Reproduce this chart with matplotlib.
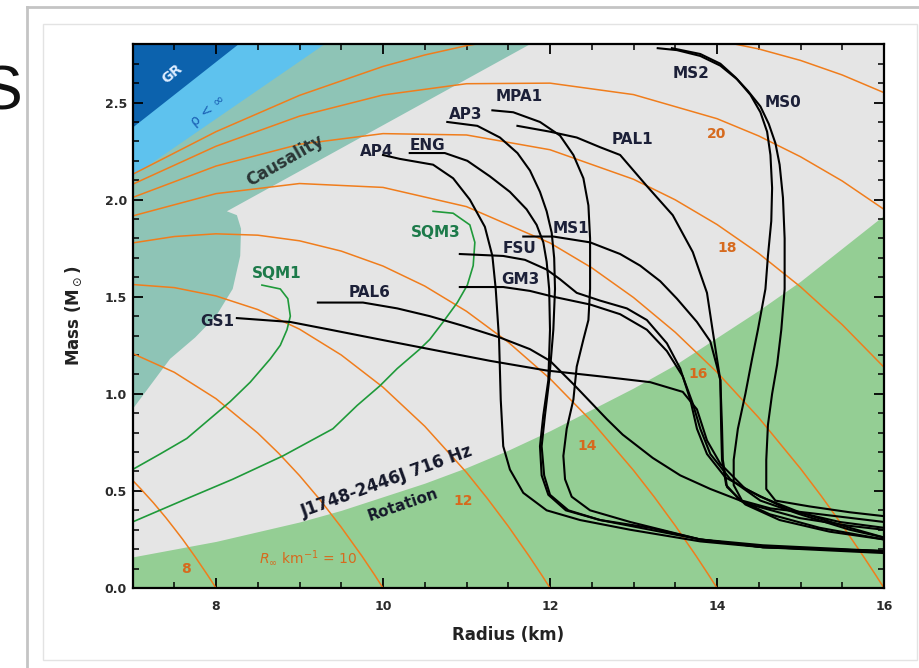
import numpy as np
import matplotlib.pyplot as plt
from matplotlib.ticker import MultipleLocator, FormatStrFormatter
from matplotlib.lines import Line2D
from matplotlib.patches import Rectangle

# ---- excluded regions ----
gr_r = [7.0, 8.27, 7.0]
gr_m = [2.37, 2.80, 2.80]
rho_r = [7.0, 9.3, 7.0]
rho_m = [2.12, 2.80, 2.80]
caus_r = [7.0, 7.45, 7.75, 8.0, 8.2, 8.29, 8.3, 8.25, 8.13, 11.76, 7.0]
caus_m = [0.92, 1.18, 1.29, 1.40, 1.54, 1.71, 1.85, 1.92, 1.94, 2.80, 2.80]
rot_r = [7, 7.5, 8, 8.5, 9, 9.5, 10, 10.5, 11, 11.5, 12, 12.5, 13, 13.5, 14, 14.5, 15, 15.5, 16]
rot_m = [0.16, 0.20, 0.24, 0.29, 0.34, 0.40, 0.47, 0.54, 0.62, 0.71, 0.81, 0.92, 1.03,
         1.15, 1.29, 1.43, 1.58, 1.75, 1.92]

# ---- R_inf contours (orange) ----
rinf8_r = [7.0, 7.1, 7.25, 7.4, 7.5, 7.6, 7.75, 7.9, 8.0]
rinf8_m = [0.555, 0.510, 0.439, 0.362, 0.307, 0.251, 0.161, 0.066, 0.0]
rinf10_r = [7.0, 7.5, 8.0, 8.5, 8.75, 9.0, 9.25, 9.5, 9.75, 9.9, 10.0]
rinf10_m = [1.208, 1.111, 0.975, 0.798, 0.694, 0.579, 0.452, 0.313, 0.163, 0.067, 0.0]
rinf12_r = [7, 7.5, 8, 8.5, 9, 9.5, 10, 10.5, 11, 11.25, 11.5, 11.75, 11.9, 12]
rinf12_m = [1.563, 1.547, 1.504, 1.434, 1.333, 1.200, 1.034, 0.833, 0.595, 0.461, 0.318,
            0.164, 0.067, 0.0]
rinf14_r = [7, 7.5, 8, 8.5, 9, 9.5, 10, 10.5, 11, 11.5, 12, 12.5, 13, 13.25, 13.5, 13.75, 13.9, 14]
rinf14_m = [1.777, 1.810, 1.824, 1.817, 1.788, 1.735, 1.658, 1.555, 1.425, 1.266, 1.078,
            0.858, 0.606, 0.468, 0.321, 0.165, 0.067, 0.0]
rinf16_r = [7, 8, 9, 10, 11, 12, 12.5, 13, 13.5, 14, 14.5, 15, 15.25, 15.5, 15.75, 15.9, 16]
rinf16_m = [1.916, 2.031, 2.083, 2.063, 1.964, 1.777, 1.649, 1.496, 1.317, 1.111, 0.877,
            0.615, 0.473, 0.323, 0.165, 0.067, 0.0]
rinf18_r = [7, 8, 9, 10, 11, 12, 13, 13.5, 14, 14.5, 15, 15.5, 16]
rinf18_m = [2.011, 2.173, 2.285, 2.340, 2.333, 2.257, 2.105, 1.999, 1.872, 1.723, 1.551,
            1.356, 1.137]
rinf20_r = [7, 8, 9, 10, 11, 12, 13, 14, 14.5, 15, 15.5, 16]
rinf20_m = [2.079, 2.275, 2.430, 2.539, 2.597, 2.600, 2.541, 2.417, 2.328, 2.221, 2.096, 1.950]
rinf22_r = [7, 8, 9, 10, 10.5, 11, 11.5, 12, 13, 14, 14.5, 15, 15.5, 16]
rinf22_m = [2.130, 2.350, 2.537, 2.686, 2.745, 2.793, 2.829, 2.854, 2.864, 2.820, 2.776,
            2.717, 2.642, 2.551]

# ---- strange quark matter (green) ----
sqm1_r = [8.55, 8.77, 8.86, 8.89, 8.85, 8.77, 8.65, 8.41, 8.17, 7.65, 7.33, 7.0]
sqm1_m = [1.56, 1.54, 1.49, 1.40, 1.33, 1.25, 1.18, 1.06, 0.96, 0.77, 0.69, 0.61]
sqm3_r = [10.60, 10.84, 11.04, 11.10, 11.08, 11.01, 10.89, 10.72, 10.56, 10.44, 10.17,
          9.96, 9.69, 9.40, 8.80, 8.20, 7.65, 7.0]
sqm3_m = [1.94, 1.93, 1.87, 1.78, 1.66, 1.56, 1.47, 1.37, 1.28, 1.23, 1.13, 1.04, 0.94,
          0.82, 0.68, 0.56, 0.46, 0.34]

# ---- nucleonic EOS curves (black) ----
ap4_r = [10.00, 10.20, 10.60, 10.84, 11.04, 11.22, 11.31, 11.35, 11.39, 11.41, 11.44,
         11.52, 11.68, 11.96, 12.36, 12.96, 13.80, 14.55, 16.0]
ap4_m = [2.23, 2.21, 2.18, 2.11, 2.00, 1.86, 1.71, 1.54, 1.28, 0.97, 0.73, 0.61, 0.49,
         0.40, 0.35, 0.30, 0.24, 0.21, 0.18]
eng_r = [10.32, 10.74, 11.01, 11.28, 11.52, 11.72, 11.84, 11.92, 11.96, 11.99, 12.00,
         11.98, 11.92, 11.88, 11.90, 11.98, 12.19, 12.60, 13.20, 13.80, 14.55, 16.0]
eng_m = [2.24, 2.24, 2.20, 2.12, 2.04, 1.95, 1.87, 1.78, 1.68, 1.54, 1.33, 1.07, 0.89,
         0.73, 0.58, 0.48, 0.40, 0.35, 0.30, 0.25, 0.21, 0.19]
ap3_r = [10.77, 11.13, 11.40, 11.61, 11.76, 11.88, 11.96, 12.02, 12.05, 12.06, 12.04,
         11.99, 11.94, 11.90, 11.93, 12.00, 12.22, 12.60, 13.20, 13.80, 14.55, 16.0]
ap3_m = [2.40, 2.38, 2.32, 2.24, 2.15, 2.04, 1.94, 1.83, 1.70, 1.54, 1.33, 1.07, 0.89,
         0.73, 0.58, 0.48, 0.40, 0.35, 0.31, 0.25, 0.22, 0.19]
mpa1_r = [11.31, 11.56, 11.88, 12.12, 12.28, 12.40, 12.46, 12.48, 12.48, 12.46, 12.40,
          12.32, 12.28, 12.20, 12.16, 12.18, 12.26, 12.48, 12.96, 13.80, 14.55, 16.0]
mpa1_m = [2.46, 2.45, 2.40, 2.33, 2.23, 2.11, 1.97, 1.80, 1.54, 1.38, 1.28, 1.14, 0.97,
          0.82, 0.68, 0.56, 0.47, 0.40, 0.34, 0.25, 0.21, 0.19]
pal1_r = [11.61, 12.00, 12.32, 12.60, 12.84, 13.16, 13.47, 13.71, 13.88, 13.95, 14.00,
          14.04, 14.06, 14.07, 14.12, 14.34, 14.75, 15.35, 16.0]
pal1_m = [2.38, 2.35, 2.32, 2.27, 2.23, 2.07, 1.92, 1.73, 1.52, 1.32, 1.18, 1.07, 0.83,
          0.66, 0.52, 0.43, 0.35, 0.29, 0.25]
ms1_r = [11.68, 12.04, 12.48, 12.84, 13.08, 13.32, 13.52, 13.76, 13.92, 14.00, 14.04,
         14.05, 14.06, 14.11, 14.28, 14.63, 15.23, 16.0]
ms1_m = [1.81, 1.81, 1.78, 1.72, 1.66, 1.58, 1.49, 1.37, 1.27, 1.14, 1.07, 0.82, 0.66,
         0.53, 0.45, 0.38, 0.31, 0.25]
fsu_r = [10.92, 11.44, 11.70, 11.96, 12.12, 12.32, 12.60, 12.92, 13.16, 13.40, 13.56,
         13.68, 13.76, 13.88, 14.10, 14.52, 14.99, 15.59, 16.0]
fsu_m = [1.72, 1.71, 1.69, 1.64, 1.59, 1.52, 1.48, 1.44, 1.38, 1.26, 1.13, 0.97, 0.82,
         0.69, 0.57, 0.47, 0.39, 0.31, 0.26]
gm3_r = [10.92, 11.44, 11.76, 12.04, 12.48, 12.84, 13.16, 13.40, 13.59, 13.71, 13.80,
         13.92, 14.16, 14.52, 14.99, 15.59, 16.0]
gm3_m = [1.55, 1.55, 1.53, 1.50, 1.46, 1.41, 1.33, 1.22, 1.09, 0.95, 0.82, 0.69, 0.56,
         0.45, 0.38, 0.30, 0.26]
pal6_r = [9.22, 9.76, 10.17, 10.56, 10.96, 11.40, 11.76, 12.00, 12.28, 12.68, 12.87,
          13.23, 13.56, 13.92, 14.40, 14.99, 15.59, 16.0]
pal6_m = [1.47, 1.47, 1.44, 1.40, 1.35, 1.29, 1.23, 1.17, 1.05, 0.87, 0.79, 0.67, 0.58,
          0.51, 0.43, 0.36, 0.32, 0.30]
gs1_r = [8.25, 8.89, 9.37, 9.96, 10.56, 11.28, 11.96, 12.60, 13.20, 13.59, 13.76, 13.88,
         14.04, 14.34, 14.87, 15.47, 16.0]
gs1_m = [1.39, 1.37, 1.33, 1.28, 1.23, 1.17, 1.12, 1.09, 1.06, 1.01, 0.92, 0.76, 0.64,
         0.51, 0.40, 0.34, 0.31]
ms2_r = [13.29, 13.52, 13.80, 14.04, 14.24, 14.40, 14.52, 14.60, 14.64, 14.66, 14.65,
         14.61, 14.58, 14.49, 14.42, 14.34, 14.25, 14.20, 14.20, 14.30, 14.64, 15.23, 16.0]
ms2_m = [2.78, 2.77, 2.74, 2.69, 2.62, 2.54, 2.45, 2.35, 2.23, 2.06, 1.89, 1.71, 1.54,
         1.33, 1.18, 1.00, 0.82, 0.66, 0.53, 0.45, 0.41, 0.38, 0.34]
ms0_r = [13.46, 13.80, 14.04, 14.22, 14.37, 14.52, 14.62, 14.70, 14.75, 14.79, 14.81,
         14.81, 14.77, 14.72, 14.66, 14.61, 14.59, 14.59, 14.70, 15.11, 15.59, 16.0]
ms0_m = [2.78, 2.75, 2.70, 2.63, 2.56, 2.48, 2.39, 2.29, 2.18, 2.01, 1.80, 1.54, 1.33,
         1.15, 1.00, 0.84, 0.66, 0.51, 0.45, 0.42, 0.39, 0.37]

ORANGE = '#f07d1c'
ORANGE_TXT = '#d66a1e'
LABEL = '#1c2038'
LBL_FONT = ['Liberation Sans Narrow', 'DejaVu Sans']

fig = plt.figure(figsize=(9.19, 6.68), dpi=100)
fig.patch.set_facecolor('white')

# slide frame around the picture
fig.add_artist(Rectangle((43 / 919, 1 - 660 / 668), 874 / 919, 636 / 668,
                         transform=fig.transFigure, facecolor='white',
                         edgecolor='#e3e3e3', lw=1, zorder=-2))
fig.add_artist(Line2D([27 / 919, 27 / 919], [0, 1 - 7 / 668], transform=fig.transFigure,
                      color='#c4c4c4', lw=2))
fig.add_artist(Line2D([27 / 919, 1], [1 - 7 / 668, 1 - 7 / 668], transform=fig.transFigure,
                      color='#c4c4c4', lw=2))
# edge of the slide title, cut off as in the screenshot
fig.text(-20 / 919, 1 - 110 / 668, 'S', fontsize=45, family=['Liberation Sans', 'DejaVu Sans'],
         va='baseline', ha='left', color='#111111')

ax = fig.add_axes([132.5 / 919, 1 - 588 / 668, 751.5 / 919, 543.7 / 668])
ax.set_facecolor('#e5e5e5')
ax.set_xlim(7, 16)
ax.set_ylim(0, 2.8)

ax.fill(caus_r, caus_m, color='#8ec4b6', lw=0, zorder=1)
ax.fill(rho_r, rho_m, color='#5ec2ee', lw=0, zorder=1.1)
ax.fill(gr_r, gr_m, color='#0c62ad', lw=0, zorder=1.2)
ax.fill_between(rot_r, 0, rot_m, color='#94ce94', lw=0, zorder=1)

for r, m in [(rinf8_r, rinf8_m), (rinf10_r, rinf10_m), (rinf12_r, rinf12_m),
             (rinf14_r, rinf14_m), (rinf16_r, rinf16_m), (rinf18_r, rinf18_m),
             (rinf20_r, rinf20_m), (rinf22_r, rinf22_m)]:
    ax.plot(r, m, color=ORANGE, lw=1.1, zorder=2)

for r, m in [(sqm1_r, sqm1_m), (sqm3_r, sqm3_m)]:
    ax.plot(r, m, color='#1f9a3a', lw=1.2, zorder=3)

for r, m in [(ap4_r, ap4_m), (eng_r, eng_m), (ap3_r, ap3_m), (mpa1_r, mpa1_m),
             (pal1_r, pal1_m), (ms1_r, ms1_m), (fsu_r, fsu_m), (gm3_r, gm3_m),
             (pal6_r, pal6_m), (gs1_r, gs1_m), (ms2_r, ms2_m), (ms0_r, ms0_m)]:
    ax.plot(r, m, color='black', lw=1.5, zorder=4)

# region labels
ax.text(7.47, 2.65, 'GR', rotation=40, color='#dcecff', fontsize=10, fontweight='bold',
        ha='center', va='center', family=LBL_FONT, zorder=5)
ax.text(7.90, 2.46, 'ρ < ∞', rotation=40, color='#1a5fb4', fontsize=10,
        ha='center', va='center', zorder=5)
ax.text(8.83, 2.20, 'Causality', rotation=30, color='#2b3636', fontsize=12, fontweight='bold',
        ha='center', va='center', family=LBL_FONT, zorder=5)
ax.text(10.05, 0.55, 'J1748-2446J 716 Hz', rotation=20, color='#15182a', fontsize=12,
        fontweight='bold', ha='center', va='center', family=LBL_FONT, zorder=5)
ax.text(10.24, 0.43, 'Rotation', rotation=19, color='#15182a', fontsize=11,
        fontweight='bold', ha='center', va='center', family=LBL_FONT, zorder=5)
ax.text(9.10, 0.155, r'$R_\infty$ km$^{-1}$ = 10', color=ORANGE_TXT, fontsize=10,
        ha='center', va='center', zorder=5)

# R_inf contour values
for x, y, s in [(7.64, 0.10, '8'), (10.96, 0.45, '12'), (12.44, 0.73, '14'),
                (13.77, 1.10, '16'), (14.12, 1.75, '18'), (14.00, 2.34, '20')]:
    ax.text(x, y, s, color=ORANGE_TXT, fontsize=10, fontweight='bold', ha='center',
            va='center', family=LBL_FONT, zorder=5)

# EOS labels
for x, y, s in [(9.92, 2.25, 'AP4'), (10.53, 2.28, 'ENG'), (10.99, 2.44, 'AP3'),
                (11.63, 2.53, 'MPA1'), (13.69, 2.65, 'MS2'), (14.79, 2.50, 'MS0'),
                (12.99, 2.31, 'PAL1'), (12.25, 1.85, 'MS1'), (11.63, 1.75, 'FSU'),
                (11.65, 1.59, 'GM3'), (9.84, 1.52, 'PAL6'), (8.01, 1.37, 'GS1')]:
    ax.text(x, y, s, color=LABEL, fontsize=11, fontweight='bold', ha='center',
            va='center', family=LBL_FONT, zorder=5)
for x, y, s in [(10.63, 1.83, 'SQM3'), (8.73, 1.62, 'SQM1')]:
    ax.text(x, y, s, color='#1d7a4a', fontsize=11, fontweight='bold', ha='center',
            va='center', family=LBL_FONT, zorder=5)

# axes styling
ax.xaxis.set_major_locator(MultipleLocator(2))
ax.xaxis.set_minor_locator(MultipleLocator(0.5))
ax.yaxis.set_major_locator(MultipleLocator(0.5))
ax.yaxis.set_minor_locator(MultipleLocator(0.1))
ax.yaxis.set_major_formatter(FormatStrFormatter('%.1f'))
ax.tick_params(which='both', direction='in', top=True, right=True, colors='black',
               labelcolor='#2a2a2a', labelsize=9, zorder=6)
ax.tick_params(which='major', length=7, width=1.3)
ax.tick_params(which='minor', length=4, width=1.1)
ax.tick_params(axis='x', pad=9)
ax.tick_params(axis='y', pad=4)
for lab in ax.get_xticklabels() + ax.get_yticklabels():
    lab.set_fontweight('bold')
    lab.set_family(LBL_FONT)
for sp in ax.spines.values():
    sp.set_linewidth(1.6)
    sp.set_zorder(6)

ax.set_xlabel('Radius (km)', fontsize=12, fontweight='bold', family=LBL_FONT,
              color='#222222', labelpad=9)
ax.set_ylabel(r'Mass ($\mathbf{M}_\odot$)', fontsize=12, fontweight='bold', family=LBL_FONT,
              color='#222222', labelpad=15)

fig.savefig('out.png', dpi=100)
